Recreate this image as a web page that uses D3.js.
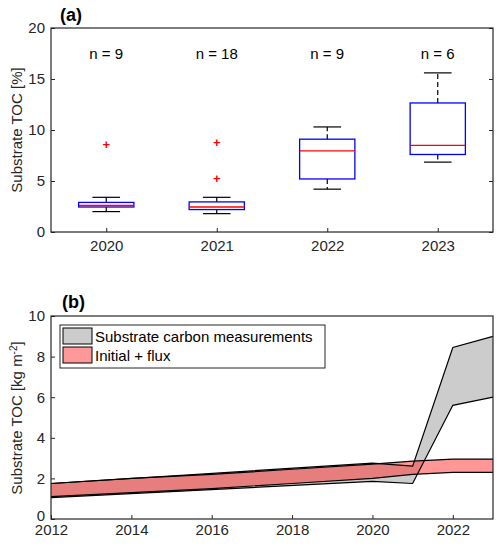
<!DOCTYPE html>
<html><head><meta charset="utf-8">
<script src="https://cdn.jsdelivr.net/npm/d3@7"></script>
<style>body{margin:0;background:#fff}text{font-family:Arial,"Liberation Sans",sans-serif}</style>
</head><body><svg id="c" width="500" height="547"></svg>
<script>
const years = ['2020', '2021', '2022', '2023'];
const counts = [9, 18, 9, 6];
const whiskLo = [2.0, 1.8, 4.2, 6.85];
const q1 = [2.45, 2.2, 5.2, 7.6];
const med = [2.6, 2.45, 7.95, 8.5];
const q3 = [2.9, 2.95, 9.1, 12.65];
const whiskHi = [3.4, 3.4, 10.3, 15.6];
const outliers = [[8.5], [8.7, 5.2], [], []];

const bYears = [2012, 2020, 2021, 2022, 2023];
const measLo = [1.05, 1.85, 1.75, 5.6, 6.0];
const measHi = [1.75, 2.75, 2.6, 8.45, 9.0];
const fluxYears = [2012, 2014, 2016, 2018, 2020, 2021, 2022, 2023];
const fluxLo = [1.1, 1.3, 1.5, 1.75, 2.0, 2.2, 2.3, 2.3];
const fluxHi = [1.75, 2.0, 2.2, 2.45, 2.7, 2.85, 2.95, 2.95];

const svg = d3.select('#c');
const ax = '#262626';
const L = 51, R = 493;

function frame(g, y0, y1) {
    g.append('rect').attr('x', L).attr('y', y0).attr('width', R - L).attr('height', y1 - y0)
        .attr('fill', 'none').attr('stroke', ax).attr('stroke-width', 1.2);
}
function style(sel) {
    sel.selectAll('.domain').remove();
    sel.selectAll('text').attr('fill', ax).style('font-size', '15px');
    sel.selectAll('line').attr('stroke', ax);
}

// panel (a)
const ga = svg.append('g');
const xa = d3.scaleLinear().domain([0.5, 4.5]).range([L, R]);
const ya = d3.scaleLinear().domain([0, 20]).range([232, 28]);
ga.append('g').attr('transform', 'translate(0,232)')
    .call(d3.axisBottom(xa).tickValues([1, 2, 3, 4]).tickFormat((d, i) => years[i]).tickSize(-4).tickPadding(8)).call(style);
ga.append('g').attr('transform', 'translate(' + L + ',0)')
    .call(d3.axisLeft(ya).ticks(4).tickSize(-4).tickPadding(6)).call(style);
ga.append('g').attr('transform', 'translate(' + R + ',0)')
    .call(d3.axisRight(ya).ticks(4).tickSize(-4).tickFormat('')).call(style);
frame(ga, 28, 232);

years.forEach((y, i) => {
    const cx = xa(i + 1), hw = xa(0.75) - xa(0.5), cw = xa(0.625) - xa(0.5);
    const b = ga.append('g');
    b.append('line').attr('x1', cx).attr('x2', cx).attr('y1', ya(q3[i])).attr('y2', ya(whiskHi[i]))
        .attr('stroke', 'black').attr('stroke-width', 1.2).attr('stroke-dasharray', '5,3');
    b.append('line').attr('x1', cx).attr('x2', cx).attr('y1', ya(q1[i])).attr('y2', ya(whiskLo[i]))
        .attr('stroke', 'black').attr('stroke-width', 1.2).attr('stroke-dasharray', '5,3');
    [whiskHi[i], whiskLo[i]].forEach(v => b.append('line').attr('x1', cx - cw).attr('x2', cx + cw)
        .attr('y1', ya(v)).attr('y2', ya(v)).attr('stroke', 'black').attr('stroke-width', 1.2));
    b.append('rect').attr('x', cx - hw).attr('width', 2 * hw).attr('y', ya(q3[i]))
        .attr('height', ya(q1[i]) - ya(q3[i])).attr('fill', 'none').attr('stroke', 'blue').attr('stroke-width', 1.3);
    b.append('line').attr('x1', cx - hw).attr('x2', cx + hw).attr('y1', ya(med[i])).attr('y2', ya(med[i]))
        .attr('stroke', 'red').attr('stroke-width', 1.3);
    outliers[i].forEach(v => b.append('text').attr('x', cx).attr('y', ya(v) + 4).attr('text-anchor', 'middle')
        .attr('fill', 'red').style('font-size', '13px').style('font-weight', 'bold').text('+'));
    b.append('text').attr('x', cx).attr('y', ya(17.5) + 5).attr('text-anchor', 'middle')
        .style('font-size', '15px').text('n = ' + counts[i]);
});
ga.append('text').attr('x', 60).attr('y', 21).style('font-size', '18px').style('font-weight', 'bold').text('(a)');
ga.append('text').attr('transform', 'translate(22,130) rotate(-90)').attr('text-anchor', 'middle')
    .attr('fill', ax).style('font-size', '15px').text('Substrate TOC [%]');

// panel (b)
const gb = svg.append('g');
const xb = d3.scaleLinear().domain([2012, 2023]).range([L, R]);
const yb = d3.scaleLinear().domain([0, 10]).range([519, 316]);
gb.append('g').attr('transform', 'translate(0,519)')
    .call(d3.axisBottom(xb).tickValues(d3.range(2012, 2024, 2)).tickFormat(d3.format('d')).tickSize(-4).tickPadding(5)).call(style);
gb.append('g').attr('transform', 'translate(' + L + ',0)')
    .call(d3.axisLeft(yb).ticks(5).tickSize(-4).tickPadding(6)).call(style);
gb.selectAll('text').filter(function () { return this.textContent === '0'; }).attr('dy', '0.1em');

const area = (xs, lo, hi) => d3.area().x((d, i) => xb(xs[i])).y0((d, i) => yb(lo[i])).y1((d, i) => yb(hi[i]))(xs);
const line = (xs, v) => d3.line().x((d, i) => xb(xs[i])).y((d, i) => yb(v[i]))(xs);
gb.append('path').attr('d', area(bYears, measLo, measHi)).attr('fill', '#cccccc');
gb.append('path').attr('d', area(fluxYears, fluxLo, fluxHi)).attr('fill', '#ff3030').attr('fill-opacity', 0.5);
[[bYears, measLo], [bYears, measHi], [fluxYears, fluxLo], [fluxYears, fluxHi]].forEach(([xs, v]) =>
    gb.append('path').attr('d', line(xs, v)).attr('fill', 'none').attr('stroke', 'black').attr('stroke-width', 1.2));
frame(gb, 316, 519);

const lg = gb.append('g');
lg.append('rect').attr('x', 60).attr('y', 325).attr('width', 265).attr('height', 43)
    .attr('fill', 'white').attr('stroke', ax);
[['#cccccc', 'Substrate carbon measurements'], ['#ff9999', 'Initial + flux']].forEach(([c, t], i) => {
    lg.append('rect').attr('x', 63).attr('y', 328 + i * 19).attr('width', 29).attr('height', 16)
        .attr('fill', c).attr('stroke', 'black');
    lg.append('text').attr('x', 95).attr('y', 342 + i * 19).style('font-size', '15px').text(t);
});
gb.append('text').attr('x', 62).attr('y', 308).style('font-size', '18px').style('font-weight', 'bold').text('(b)');
const yl = gb.append('text').attr('transform', 'translate(22,418) rotate(-90)').attr('text-anchor', 'middle')
    .attr('fill', ax).style('font-size', '15px');
yl.append('tspan').text('Substrate TOC [kg m');
yl.append('tspan').attr('dy', -5).style('font-size', '10px').text('-2');
yl.append('tspan').attr('dy', 5).text(']');
</script></body></html>
